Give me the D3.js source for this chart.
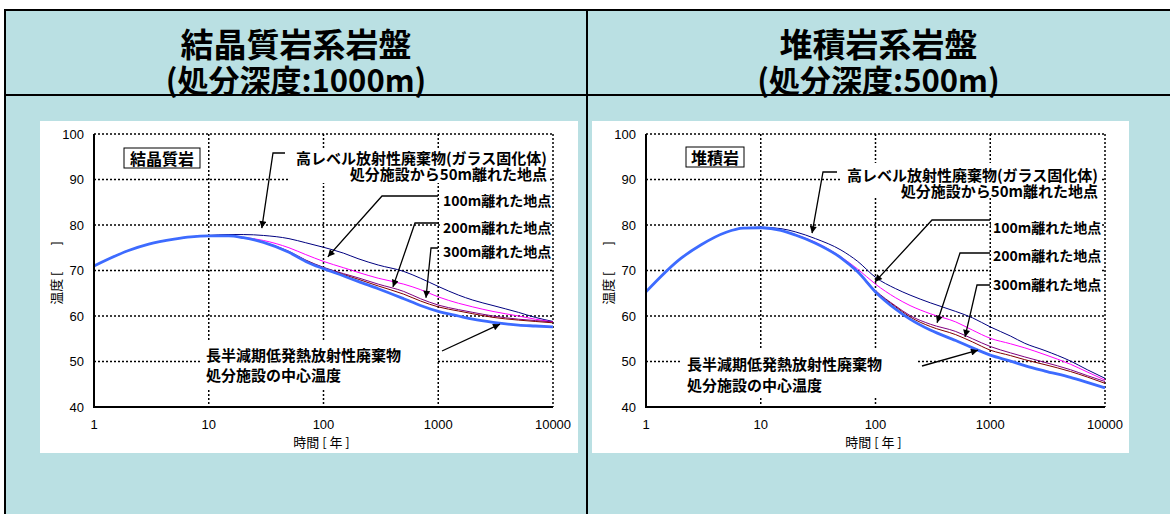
<!DOCTYPE html>
<html>
<head>
<meta charset="utf-8">
<script src="https://cdn.jsdelivr.net/npm/d3@7"></script>
<style>
  body { margin: 0; background: #fff; }
  svg { display: block; }
</style>
</head>
<body>
<svg id="chart"></svg>
<script>
// time axis (years) shared by every curve
const years = [1, 2, 3, 5, 7, 10, 15, 20, 30, 50, 70, 100, 150, 200, 300, 500, 700, 1000, 1500, 2000, 3000, 5000, 7000, 10000];
const xTicks = [1, 10, 100, 1000, 10000];
const yTicks = [40, 50, 60, 70, 80, 90, 100];
const gridX = [10, 100, 1000];
const gridY = [50, 60, 70, 80, 90];

const panelTitles = ["結晶質岩系岩盤", "堆積岩系岩盤"];
const panelDepths = ["(処分深度:1000m)", "(処分深度:500m)"];
const rockNames = ["結晶質岩", "堆積岩"];
const hlwLines = ["高レベル放射性廃棄物(ガラス固化体)", "処分施設から50m離れた地点"];
const distLabels = ["100m離れた地点", "200m離れた地点", "300m離れた地点"];
const truLines = ["長半減期低発熱放射性廃棄物", "処分施設の中心温度"];

// crystalline rock, 1000 m
const crystal50 = [71.0, 74.4, 75.8, 76.9, 77.4, 77.7, 77.9, 77.9, 77.7, 77.0, 76.1, 75.1, 73.8, 72.6, 71.2, 69.8, 68.3, 66.5, 64.6, 63.5, 62.3, 60.8, 59.7, 58.8];
const crystal100 = [71.0, 74.4, 75.8, 76.9, 77.4, 77.6, 77.6, 77.3, 76.6, 75.0, 73.5, 72.0, 70.6, 69.6, 68.3, 67.0, 65.8, 64.2, 62.8, 62.0, 61.0, 60.0, 59.3, 58.7];
const crystal200 = [71.0, 74.4, 75.8, 76.9, 77.4, 77.6, 77.6, 77.2, 76.2, 74.2, 72.3, 70.7, 69.3, 68.4, 67.0, 65.4, 63.8, 62.4, 61.4, 60.8, 60.0, 59.3, 59.0, 58.7];
const crystal300 = [71.0, 74.4, 75.8, 76.9, 77.4, 77.6, 77.6, 77.2, 76.2, 74.1, 72.2, 70.6, 69.1, 68.1, 66.6, 64.8, 63.3, 62.0, 61.1, 60.5, 59.7, 59.1, 58.8, 58.5];
const crystalTru = [71.0, 74.4, 75.8, 76.9, 77.4, 77.6, 77.6, 77.2, 76.2, 74.0, 72.0, 70.4, 68.8, 67.6, 66.0, 63.8, 62.3, 61.0, 60.0, 59.3, 58.6, 58.0, 57.8, 57.6];

// sedimentary rock, 500 m
const sed50 = [65.3, 72.6, 75.6, 78.4, 79.3, 79.5, 79.2, 78.5, 77.0, 74.5, 72.0, 68.5, 66.0, 64.6, 62.9, 61.0, 59.6, 57.6, 55.6, 54.0, 52.4, 50.1, 48.2, 46.3];
const sed100 = [65.3, 72.6, 75.6, 78.4, 79.3, 79.4, 78.8, 77.9, 76.2, 73.0, 70.3, 67.0, 64.0, 62.3, 60.5, 58.7, 56.9, 55.1, 53.9, 53.0, 51.5, 49.4, 47.7, 45.9];
const sed200 = [65.3, 72.6, 75.6, 78.4, 79.3, 79.4, 78.8, 77.8, 76.0, 72.8, 69.8, 65.6, 62.2, 60.1, 58.2, 56.6, 55.0, 53.3, 51.9, 51.0, 49.8, 48.2, 46.9, 45.6];
const sed300 = [65.3, 72.6, 75.6, 78.4, 79.3, 79.4, 78.8, 77.8, 76.0, 72.8, 69.8, 65.5, 62.0, 59.8, 57.7, 55.9, 54.3, 52.5, 51.3, 50.4, 49.3, 47.8, 46.6, 45.2];
const sedTru = [65.3, 72.6, 75.6, 78.4, 79.3, 79.4, 78.8, 77.8, 76.0, 72.8, 69.7, 65.3, 61.5, 59.3, 56.9, 54.6, 53.0, 51.4, 50.1, 49.1, 47.9, 46.5, 45.4, 44.2];

const W = 1170, H = 514;
const BG = "#bae0e3";
const FONT_JP = "'Noto Sans CJK JP', sans-serif";
const FONT_NUM = "'Liberation Sans', Arial, sans-serif";

const curveStyle = [
  { color: "#000080", width: 1 },
  { color: "#ff00ff", width: 1 },
  { color: "#800080", width: 1 },
  { color: "#800000", width: 1 },
  { color: "#3d6bff", width: 2.8 },
];

const panels = [
  {
    col: 5, colW: 582, box: [40, 121, 538, 332], plot: [94, 134, 459, 273],
    series: [crystal50, crystal100, crystal200, crystal300, crystalTru],
    rock: { cx: 68, cy: 24, w: 76, h: 20 },
    hlw: { x: 453, y: 23, gap: 16, bg: [194, 14, 262, 35], leader: [[191, 19], [179, 19]], tip: [29, 79.3] },
    dist: { x: 349, y: [66, 93, 117], bg: [346, 51, 110, 77],
      leaders: [[[344, 62], [288, 62]], [[344, 89], [321, 89]], [[344, 114], [337, 114]]],
      tips: [[109, 73.0], [403, 66.4], [782, 64.0]] },
    tru: { x: 112, y: 220, gap: 20, bg: [106, 206, 236, 48], from: [348, 217], tip: [3453, 58.2] },
  },
  {
    col: 587, colW: 583, box: [592, 121, 537, 332], plot: [646, 134, 459, 273],
    series: [sed50, sed100, sed200, sed300, sedTru],
    rock: { cx: 69, cy: 23, w: 58, h: 20 },
    hlw: { x: 452, y: 40, gap: 16, bg: [196, 29, 258, 34], leader: [[191, 38], [177, 38]], tip: [28, 78.2] },
    dist: { x: 347, y: [93, 121, 150], bg: [345, 73, 111, 90],
      leaders: [[[344, 86], [286, 86]], [[344, 119], [314, 119]], [[344, 151], [331, 151]]],
      tips: [[99, 67.5], [344, 58.5], [603, 55.4]] },
    tru: { x: 41, y: 229, gap: 21, bg: [36, 216, 236, 46], from: [276, 232], tip: [782, 52.5] },
  },
];

const svg = d3.select("#chart").attr("width", W).attr("height", H);

svg.append("defs").append("marker")
  .attr("id", "arrow")
  .attr("viewBox", "0 0 10 10")
  .attr("refX", 10).attr("refY", 5)
  .attr("markerWidth", 9).attr("markerHeight", 7)
  .attr("markerUnits", "userSpaceOnUse")
  .attr("orient", "auto")
  .append("path").attr("d", "M0,0L10,5L0,10z").attr("fill", "#000");

// background of the table
svg.append("rect").attr("x", 0).attr("y", 0).attr("width", W).attr("height", H).attr("fill", "#fff");
svg.append("rect").attr("x", 5).attr("y", 10).attr("width", W - 5).attr("height", H - 10).attr("fill", BG);

// multi-line text as one element with tspans
const multiline = (parent, lines, x0, y0, gap, anchor) => {
  const t = parent.append("text").attr("text-anchor", anchor);
  lines.forEach((s, k) => {
    t.append("tspan").attr("x", x0).attr("y", y0 + k * gap).attr("dominant-baseline", "central").text(s);
  });
  return t;
};

panels.forEach((p, i) => {
  // header text
  const cx = p.col + p.colW / 2;
  const head = svg.append("text").attr("text-anchor", "middle")
    .style("font-family", FONT_JP).style("font-weight", 700);
  head.append("tspan").attr("x", cx).attr("y", 43).attr("dominant-baseline", "central")
    .style("font-size", "33px").text(panelTitles[i]);
  head.append("tspan").attr("x", cx).attr("y", 78).attr("dominant-baseline", "central")
    .style("font-size", "31px").text(panelDepths[i]);

  // white chart area
  svg.append("rect").attr("x", p.box[0]).attr("y", p.box[1])
    .attr("width", p.box[2]).attr("height", p.box[3]).attr("fill", "#fff");

  const [px, py, pw, ph] = p.plot;
  const x = d3.scaleLog().domain([1, 10000]).range([0, pw]);
  const y = d3.scaleLinear().domain([40, 100]).range([ph, 0]);
  const g = svg.append("g").attr("transform", `translate(${px},${py})`);
  const dotted = (sel) => sel.attr("stroke", "#000").attr("stroke-width", 1.5).attr("stroke-dasharray", "2,2").attr("fill", "none");

  // grid and dotted frame
  g.selectAll(".gy").data(gridY.concat([100])).join("line")
    .attr("x1", 0).attr("x2", pw).attr("y1", (d) => y(d)).attr("y2", (d) => y(d)).call(dotted);
  g.selectAll(".gx").data(gridX.concat([10000])).join("line")
    .attr("y1", 0).attr("y2", ph).attr("x1", (d) => x(d)).attr("x2", (d) => x(d)).call(dotted);

  // white backing under the labels (hides the grid there)
  [p.hlw.bg, p.dist.bg, p.tru.bg].forEach((b) => {
    g.append("rect").attr("x", b[0]).attr("y", b[1]).attr("width", b[2]).attr("height", b[3]).attr("fill", "#fff");
  });

  // curves
  const line = d3.line().x((d) => x(d[0])).y((d) => y(d[1])).curve(d3.curveMonotoneX);
  g.selectAll(".curve").data(p.series).join("path")
    .attr("d", (s) => line(years.map((t, k) => [t, s[k]])))
    .attr("fill", "none")
    .attr("stroke", (s, k) => curveStyle[k].color)
    .attr("stroke-width", (s, k) => curveStyle[k].width);

  // solid left / bottom axes
  g.append("line").attr("x1", 0).attr("x2", 0).attr("y1", 0).attr("y2", ph).attr("stroke", "#000").attr("stroke-width", 2);
  g.append("line").attr("x1", -1).attr("x2", pw).attr("y1", ph).attr("y2", ph).attr("stroke", "#000").attr("stroke-width", 2);

  // tick labels
  g.selectAll(".yt").data(yTicks).join("text")
    .attr("x", -10).attr("y", (d) => y(d))
    .attr("text-anchor", "end").attr("dominant-baseline", "central")
    .style("font-family", FONT_NUM).style("font-size", "13px")
    .text((d) => d);
  g.selectAll(".xt").data(xTicks).join("text")
    .attr("x", (d) => x(d)).attr("y", ph + 17)
    .attr("text-anchor", "middle").attr("dominant-baseline", "central")
    .style("font-family", FONT_NUM).style("font-size", "13px")
    .text((d) => d);

  // axis titles
  g.append("text").attr("x", pw / 2 - 2).attr("y", ph + 34)
    .attr("text-anchor", "middle").attr("dominant-baseline", "central")
    .style("font-family", FONT_JP).style("font-size", "13px")
    .text("時間 [ 年 ]");
  g.append("text")
    .attr("transform", `translate(${p.box[0] + 15 - px},${139}) rotate(-90)`)
    .attr("text-anchor", "middle").attr("dominant-baseline", "central")
    .style("font-family", FONT_JP).style("font-size", "13px")
    .text("温度 [　　]");

  const boldText = (sel, size) => sel.style("font-family", FONT_JP).style("font-weight", 700).style("font-size", size + "px");

  // rock name box
  g.append("rect").attr("x", p.rock.cx - p.rock.w / 2).attr("y", p.rock.cy - p.rock.h / 2)
    .attr("width", p.rock.w).attr("height", p.rock.h).attr("fill", "#fff").attr("stroke", "#000").attr("stroke-width", 1);
  g.append("text").attr("x", p.rock.cx).attr("y", p.rock.cy).attr("text-anchor", "middle")
    .attr("dominant-baseline", "central").call(boldText, 16).text(rockNames[i]);

  // HLW label and leader
  multiline(g, hlwLines, p.hlw.x, p.hlw.y, p.hlw.gap, "end").call(boldText, 15);
  const arrowPath = (pts) => d3.line()(pts);
  g.append("path").attr("d", arrowPath([...p.hlw.leader, [x(p.hlw.tip[0]), y(p.hlw.tip[1])]]))
    .attr("fill", "none").attr("stroke", "#000").attr("stroke-width", 1.3).attr("marker-end", "url(#arrow)");

  // distance labels and leaders
  distLabels.forEach((t, k) => {
    g.append("text").attr("x", p.dist.x).attr("y", p.dist.y[k]).attr("dominant-baseline", "central")
      .call(boldText, 14).text(t);
    const tip = p.dist.tips[k];
    g.append("path").attr("d", arrowPath([...p.dist.leaders[k], [x(tip[0]), y(tip[1])]]))
      .attr("fill", "none").attr("stroke", "#000").attr("stroke-width", 1.3).attr("marker-end", "url(#arrow)");
  });

  // TRU label and arrow
  multiline(g, truLines, p.tru.x, p.tru.y, p.tru.gap, "start").call(boldText, 15);
  g.append("path").attr("d", arrowPath([p.tru.from, [x(p.tru.tip[0]), y(p.tru.tip[1])]]))
    .attr("fill", "none").attr("stroke", "#000").attr("stroke-width", 1.3).attr("marker-end", "url(#arrow)");
});

// table rules
const rule = (x1, y1, x2, y2) => svg.append("line").attr("x1", x1).attr("y1", y1).attr("x2", x2).attr("y2", y2)
  .attr("stroke", "#000").attr("stroke-width", 2);
rule(4, 10, W, 10);
rule(5, 9, 5, H);
rule(4, 95, W, 95);
rule(587, 9, 587, H);
</script>
</body>
</html>
